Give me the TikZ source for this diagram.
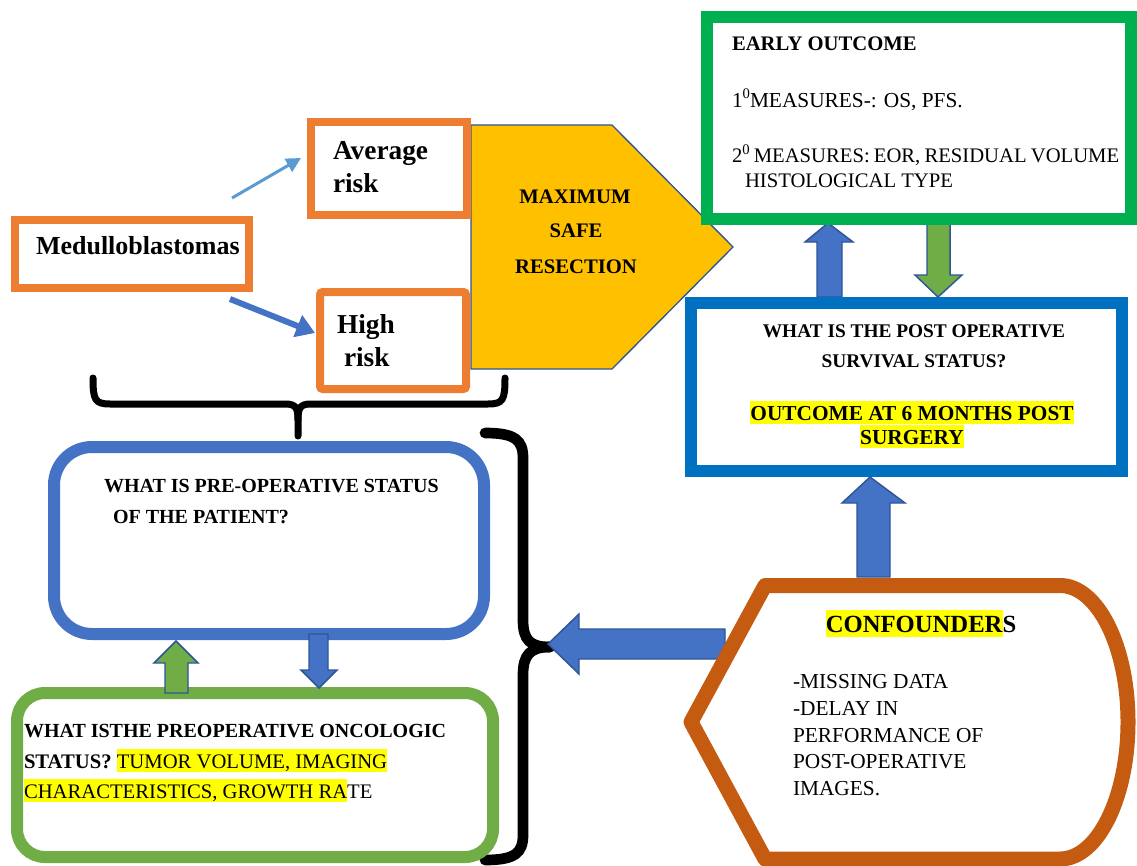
\documentclass[tikz,border=0pt]{standalone}
\usepackage{fontspec}
\setmainfont{Liberation Serif}
\usetikzlibrary{arrows.meta}
\definecolor{orgC}{HTML}{ED7D31}
\definecolor{dorgC}{HTML}{C55A11}
\definecolor{grnC}{HTML}{00B050}
\definecolor{lgrnC}{HTML}{70AD47}
\definecolor{bboxC}{HTML}{0070C0}
\definecolor{blueC}{HTML}{4472C4}
\definecolor{lineC}{HTML}{2F5597}
\definecolor{goldC}{HTML}{FFC000}
\definecolor{lblueC}{HTML}{5B9BD5}
\definecolor{hlC}{HTML}{FFFF00}
\newcommand\hl[1]{{\setlength{\fboxsep}{0pt}\colorbox{hlC}{\rule[-0.2em]{0pt}{1.1em}#1}}}
\newcommand\supz{\raisebox{0.43em}{\fontsize{11}{11}\selectfont 0}}
\begin{document}
\begin{tikzpicture}[x=0.75pt,y=-0.75pt,
  box/.style={draw, inner sep=0pt, outer sep=0pt},
  obox/.style={box, draw=orgC, line width=6pt},
  txt/.style={inner sep=0pt, outer sep=0pt, anchor=base west},
  ctxt/.style={inner sep=0pt, outer sep=0pt, anchor=base},
  barrow/.style={draw=lineC, line width=1.1pt, line join=miter},
  bracestyle/.style={line width=5.25pt, line cap=round},
  bracestyleb/.style={line width=8pt, line cap=round},
  ]
\useasboundingbox (0,0) rectangle (1137,866);
\fill[white] (0,0) rectangle (1137,866);

% pentagon
\draw[draw=lineC, line width=1pt, fill=goldC] (471,125) -- (612,125) -- (733,247) -- (612,369) -- (471,369) -- cycle;

% orange boxes
\node[obox, minimum width=175.5pt, minimum height=51pt] (med) at (132,254) {};
\node[obox, minimum width=117pt, minimum height=69.75pt] (avg) at (389,168.5) {};
\node[obox, rounded corners=2pt, minimum width=109.5pt, minimum height=72.75pt] (high) at (393,340.5) {};

% thin arrows
\coordinate (la1) at (232,198);
\coordinate (la2) at (301,158);
\coordinate (ha1) at (230,299);
\coordinate (ha2) at (315,333);
\draw[line width=2.25pt, draw=lblueC, -{Triangle[length=11pt,width=11pt]}] (la1) -- (la2);
\draw[line width=4.5pt, draw=blueC, -{Triangle[length=14pt,width=17pt]}] (ha1) -- (ha2);

% block arrows between green and blue boxes
\draw[barrow, fill=blueC] (828,223) -- (853,242) -- (842,242) -- (842,297) -- (817,297) -- (817,242) -- (805,242) -- cycle;
\draw[barrow, fill=lgrnC] (927,223) -- (950,223) -- (950,275) -- (962,275) -- (938,297) -- (915,275) -- (927,275) -- cycle;

% green and blue boxes
\node[box, draw=grnC, line width=9pt, minimum width=318pt, minimum height=151.5pt] (early) at (919,118) {};
\node[box, draw=bboxC, line width=9pt, minimum width=323.25pt, minimum height=126pt] (post) at (906.5,387) {};

% top brace
\draw[bracestyle] (93,378) .. controls (93,400) and (95,404) .. (110,404) -- (285,404) .. controls (296,404) and (298,408) .. (298,420) -- (298,436);
\draw[bracestyle] (505,378) .. controls (505,400) and (503,404) .. (488,404) -- (311,404) .. controls (300,404) and (298,408) .. (298,420);

% right brace
\draw[bracestyleb] (485,433) .. controls (515,433) and (523,440) .. (523,458) -- (523,620) .. controls (523,640) and (530,647) .. (550,647);
\draw[bracestyleb] (550,647) .. controls (530,647) and (523,655) .. (523,675) -- (523,835) .. controls (523,853) and (515,860) .. (485,860);

% rounded boxes
\node[box, draw=blueC, line width=9pt, rounded corners=28.5pt, minimum width=322.5pt, minimum height=140.25pt] (pre) at (269,540.5) {};
\node[box, draw=lgrnC, line width=9pt, rounded corners=21pt, minimum width=357pt, minimum height=123pt] (onc) at (255,775) {};

% small block arrows
\draw[barrow, fill=lgrnC] (176,641) -- (198,663) -- (188,663) -- (188,693) -- (165,693) -- (165,663) -- (154,663) -- cycle;
\draw[barrow, fill=blueC] (309,634) -- (328,634) -- (328,670) -- (337,670) -- (319,688) -- (301,670) -- (309,670) -- cycle;

% left block arrow and up arrow from confounders
\draw[barrow, fill=blueC] (548,644) -- (579,614) -- (579,629) -- (725,629) -- (725,659) -- (579,659) -- (579,674) -- cycle;
\draw[barrow, fill=blueC] (870,477) -- (905,503) -- (890,503) -- (890,577) -- (857,577) -- (857,503) -- (842,503) -- cycle;

% confounders shape
\draw[draw=dorgC, line width=11.25pt, line join=round, fill=white]
  (765,585.5) -- (1060,585.5) .. controls (1097.6,585.5) and (1128,646.5) .. (1128,722)
  .. controls (1128,797.5) and (1097.6,859) .. (1060,859) -- (765,859) -- (691,722) -- cycle;

% texts
\node[txt, font=\bfseries\fontsize{19.5}{23}\selectfont] (tmed) at (36,254) {Medulloblastomas};
\node[txt, font=\bfseries\fontsize{20.5}{24}\selectfont] (tavg1) at (333,160) {Average};
\node[txt, font=\bfseries\fontsize{20.5}{24}\selectfont] (tavg2) at (333,193) {risk};
\node[txt, font=\bfseries\fontsize{20.5}{24}\selectfont] (thigh1) at (337,333) {High};
\node[txt, font=\bfseries\fontsize{20.5}{24}\selectfont] (thigh2) at (344,366) {risk};

\node[ctxt, font=\bfseries\fontsize{15.5}{18}\selectfont] (msr1) at (575,204) {MAXIMUM};
\node[ctxt, font=\bfseries\fontsize{15.5}{18}\selectfont] (msr2) at (576,238) {SAFE};
\node[ctxt, font=\bfseries\fontsize{15.5}{18}\selectfont] (msr3) at (576,273) {RESECTION};

\node[txt, font=\bfseries\fontsize{15.5}{18}\selectfont] (eo1) at (732,51) {EARLY OUTCOME};
\node[txt, font=\fontsize{16}{19}\selectfont] (eo2) at (732,108) {1\supz MEASURES-: OS, PFS.};
\node[txt, font=\fontsize{15.5}{19}\selectfont] (eo3) at (732,163) {\spaceskip=0.2em plus 0.05em\relax 2\supz{} MEASURES: EOR, RESIDUAL VOLUME};
\node[txt, font=\fontsize{15.5}{19}\selectfont] (eo4) at (745,188) {HISTOLOGICAL TYPE};

\node[ctxt, font=\bfseries\fontsize{14.5}{17}\selectfont] (po1) at (914,337) {WHAT IS THE POST OPERATIVE};
\node[ctxt, font=\bfseries\fontsize{14.5}{17}\selectfont] (po2) at (914,367) {SURVIVAL STATUS?};
\node[ctxt, font=\bfseries\fontsize{16}{19}\selectfont] (po3) at (912,420) {\hl{OUTCOME AT 6 MONTHS POST}};
\node[ctxt, font=\bfseries\fontsize{16}{19}\selectfont] (po4) at (912,444) {\hl{SURGERY}};

\node[txt, font=\bfseries\fontsize{15}{18}\selectfont] (pr1) at (104,492) {WHAT IS PRE-OPERATIVE STATUS};
\node[txt, font=\bfseries\fontsize{15}{18}\selectfont] (pr2) at (113,523) {OF THE PATIENT?};

\node[txt, font=\bfseries\fontsize{15}{18}\selectfont] (on1) at (24,737) {WHAT ISTHE PREOPERATIVE ONCOLOGIC};
\node[txt, font=\fontsize{15.5}{18}\selectfont] (on2) at (24,768) {\textbf{STATUS?} \hl{TUMOR VOLUME, IMAGING}};
\node[txt, font=\fontsize{15.5}{18}\selectfont] (on3) at (24,798) {\hl{CHARACTERISTICS, GROWTH RA}TE};

\node[ctxt, font=\bfseries\fontsize{18.5}{22}\selectfont] (cf) at (921,632) {\hl{CONFOUNDER}S};
\node[txt, font=\fontsize{16}{19}\selectfont] (cf1) at (793,688) {-MISSING DATA};
\node[txt, font=\fontsize{16}{19}\selectfont] (cf2) at (793,715) {-DELAY IN};
\node[txt, font=\fontsize{16}{19}\selectfont] (cf3) at (793,742) {PERFORMANCE OF};
\node[txt, font=\fontsize{16}{19}\selectfont] (cf4) at (793,768) {POST-OPERATIVE};
\node[txt, font=\fontsize{16}{19}\selectfont] (cf5) at (793,795) {IMAGES.};
\end{tikzpicture}
\end{document}
